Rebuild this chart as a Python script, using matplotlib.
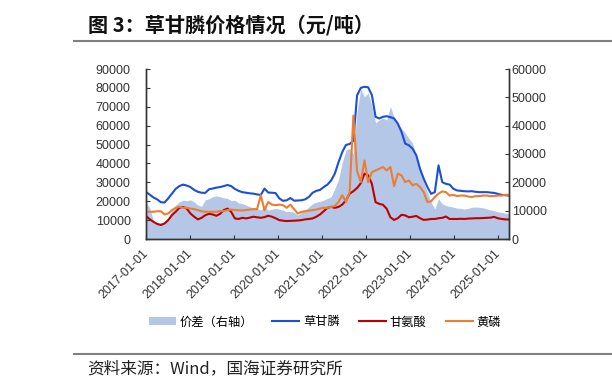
import numpy as np
import pandas as pd
import matplotlib
matplotlib.use("Agg")
import matplotlib.pyplot as plt
import matplotlib.dates as mdates
from matplotlib.patches import Patch
from matplotlib.lines import Line2D

plt.rcParams["font.family"] = ["Liberation Sans", "Noto Sans CJK SC", "DejaVu Sans"]
CJK = ["Noto Sans CJK SC", "DejaVu Sans"]

# monthly values, 2017-01 .. 2025-03 (yuan/ton)
glyphosate = [
    24900, 23500, 22000, 21000, 19500, 19300, 21500, 24000, 26500, 28000, 28800, 28300,
    27500, 26000, 25000, 24500, 24400, 26300, 26700, 27200, 27500, 28000, 28600, 28000,
    26500, 25500, 24800, 24500, 24200, 24000, 23600, 23300, 26700, 24600, 24500, 24300,
    21500, 20200, 20500, 21700, 20300, 20400, 20500, 21000, 22300, 24500, 25500, 26000,
    27500, 28800, 31000, 34600, 40700, 46000, 49800, 50300, 52000, 76000, 80000, 80600,
    80300, 76200, 64700, 63800, 64700, 65000, 64500, 63800, 61100, 56700, 50500, 49600,
    47800, 44300, 37200, 31900, 27500, 23900, 24800, 39000, 30100, 29200, 28800, 26600,
    25700, 25500, 25300, 25200, 25300, 25000, 24800, 24800, 24800, 24600, 24400, 23900,
    23400, 23200, 23000,
]
glycine = [
    12100, 10500, 9100, 8000, 7400, 8200, 10000, 12600, 14400, 16500, 17000, 16100,
    13500, 11800, 10400, 11200, 12600, 13300, 13000, 12300, 13300, 15300, 16100, 14400,
    10900, 10600, 11200, 10900, 11300, 11800, 11500, 11200, 11600, 12300, 11800, 11000,
    10000, 9700, 9500, 9600, 9700, 9800, 10000, 10400, 10600, 10900, 11800, 13000,
    14700, 16500, 17000, 16500, 17000, 18200, 20500, 24000, 25300, 27000, 29500, 34600,
    33700, 29200, 19500, 18600, 18100, 16000, 11500, 10100, 11000, 12800, 12500, 11500,
    11800, 12200, 11000, 10100, 10300, 10600, 10600, 11000, 11200, 11900, 10600, 10600,
    10600, 10700, 10600, 10800, 10900, 11000, 11000, 11100, 11200, 11300, 11700, 11000,
    10600, 10400, 10300,
]
phosphorus = [
    14400, 14400, 14400, 14700, 14700, 13000, 13500, 15300, 16500, 17000, 16600, 16500,
    16100, 15800, 15300, 14700, 14400, 14400, 14400, 14400, 14700, 14800, 15300, 15600,
    15300, 15200, 15100, 15300, 15600, 15800, 15800, 23200, 15300, 19600, 18200, 17900,
    18200, 17900, 16500, 18200, 15800, 13500, 14400, 14700, 15000, 15300, 15600, 16100,
    16500, 16500, 17000, 17500, 19600, 23200, 19600, 24900, 65300, 36000, 30100, 41600,
    30100, 35400, 36300, 37200, 38100, 36300, 38100, 28000, 34600, 33700, 30100, 31000,
    28400, 29200, 27500, 24800, 19500, 20000, 22200, 24000, 25200, 24800, 23000, 23400,
    22700, 23000, 23000, 22500, 22200, 22700, 22700, 23000, 23000, 22700, 22700, 23000,
    23000, 23400, 23400,
]
# price spread, right axis
spread = [
    13100, 11000, 6500, 5500, 5800, 6000, 7500, 10200, 11900, 13100, 13700, 13500,
    13800, 13100, 12000, 11500, 13800, 14200, 14900, 15200, 14900, 14500, 14300, 13500,
    13700, 12700, 12500, 12000, 11400, 11000, 10800, 10200, 11500, 10200, 10500, 10800,
    10500, 10200, 9600, 9800, 9400, 8400, 9600, 10200, 11300, 12500, 13000, 13300,
    13700, 14300, 14900, 17800, 21000, 27000, 31400, 32000, 30000, 45000, 53000, 50200,
    51500, 47000, 41000, 42000, 42700, 42000, 46700, 43000, 40900, 39000, 37400, 35500,
    33800, 29000, 24800, 20100, 16500, 13000, 10600, 14200, 12400, 11800, 11500, 11200,
    10900, 10800, 10600, 10800, 11200, 11300, 11200, 11000, 10600, 10300, 10000, 9600,
    9400, 9100, 8900,
]
dates = pd.date_range("2017-01-01", "2025-03-31", periods=len(glyphosate))
tick_years = pd.date_range("2017-01-01", "2025-01-01", freq="YS")

c_fill = "#B4C7E7"
c_blue = "#1A4FD6"
c_red = "#C00000"
c_orange = "#ED7D31"
c_axis = "#333333"

fig = plt.figure(figsize=(6.12, 3.90), dpi=100)
ax = fig.add_axes([146 / 612, 1 - 239 / 390, (509 - 146) / 612, (239 - 69) / 390])
ax2 = ax.twinx()

ax2.fill_between(dates, spread, 0, color=c_fill, lw=0)
ax.plot(dates, glyphosate, color=c_blue, lw=1.5)
ax.plot(dates, glycine, color=c_red, lw=1.5)
ax.plot(dates, phosphorus, color=c_orange, lw=1.5)

ax.set_zorder(ax2.get_zorder() + 1)
ax.patch.set_visible(False)

ax.set_xlim(pd.Timestamp("2017-01-01"), pd.Timestamp("2025-04-01"))
ax.set_ylim(0, 90000)
ax2.set_ylim(0, 60000)
ax.set_yticks(np.arange(0, 90001, 10000))
ax2.set_yticks(np.arange(0, 60001, 10000))
ax.set_xticks(tick_years)
ax.xaxis.set_major_formatter(mdates.DateFormatter("%Y-%m-%d"))

for a in (ax, ax2):
    a.spines["top"].set_visible(False)
    for s in ("left", "right", "bottom"):
        a.spines[s].set_color(c_axis)
        a.spines[s].set_linewidth(1.0)

ax.tick_params(axis="y", direction="in", length=3, pad=11, labelsize=9, colors=c_axis)
ax2.tick_params(axis="y", direction="in", length=3, pad=2, labelsize=9, colors=c_axis)
ax.tick_params(axis="x", direction="in", length=3, pad=9, labelsize=9, colors=c_axis)
for lab in ax.get_xticklabels():
    lab.set_rotation(45)
    lab.set_ha("right")
    lab.set_va("center")
    lab.set_rotation_mode("anchor")

handles = [
    Patch(facecolor=c_fill, edgecolor="none"),
    Line2D([], [], color=c_blue, lw=1.5),
    Line2D([], [], color=c_red, lw=1.5),
    Line2D([], [], color=c_orange, lw=1.5),
]
labels = ["价差（右轴）", "草甘膦", "甘氨酸", "黄磷"]
fig.legend(handles, labels, loc="center", bbox_to_anchor=(325 / 612, 1 - 322 / 390),
           ncol=4, frameon=False, prop={"family": CJK, "size": 8.8},
           handlelength=2.2, handleheight=0.6, handletextpad=0.3, columnspacing=1.6)

# title and source
fig.text(88 / 612, 1 - 25 / 390, "图 3：草甘膦价格情况（元/吨）", family=CJK,
         fontsize=14.5, fontweight="bold", color="#111111", ha="left", va="center")
fig.add_artist(Line2D([74 / 612, 1], [1 - 41 / 390] * 2, color="#808080", lw=1.5))
fig.add_artist(Line2D([74 / 612, 1], [1 - 354 / 390] * 2, color="#808080", lw=1.5))
fig.text(87 / 612, 1 - 369 / 390, "资料来源：Wind，国海证券研究所", family=CJK,
         fontsize=12, color="#222222", ha="left", va="center")

fig.savefig("out.png", dpi=100)
